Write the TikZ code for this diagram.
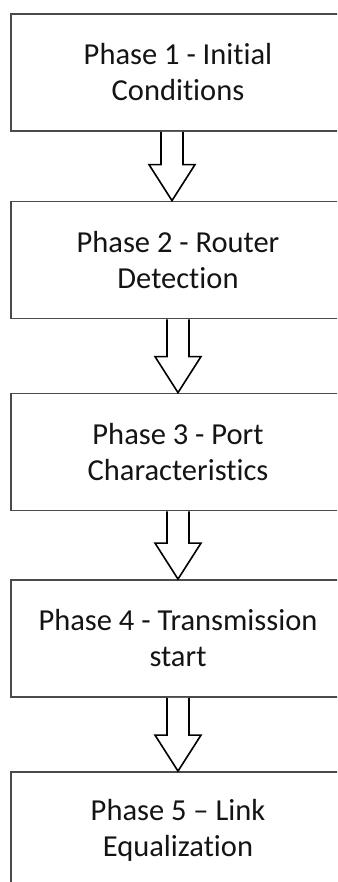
\documentclass[tikz,border=0pt]{standalone}
\usepackage{fontspec}
\setmainfont{Carlito}[Ligatures={NoCommon,NoContextual,NoRequired}]
\usetikzlibrary{calc}
\definecolor{frame}{HTML}{4A4A4A}
\definecolor{ink}{HTML}{141414}
\tikzset{
  phase/.style={draw=frame, line width=1.8pt, fill=white, minimum width=334pt,
    minimum height=117pt, inner sep=0pt, align=center, text=ink,
    font=\fontsize{30.5pt}{36pt}\selectfont},
  blockarr/.style={draw=black, line width=1.6pt, fill=white, line join=miter}
}
\begin{document}
\begin{tikzpicture}[x=1pt,y=1pt]
\useasboundingbox (0,0) rectangle (337,-882);
\clip (0,0) rectangle (337,-882);
\fill[white] (0,0) rectangle (337,-882);

\node[phase] (b1) at (178,-72.5) {Phase 1 - Initial\\Conditions};
\node[phase] (b2) at (178,-260) {Phase 2 - Router\\Detection};
\node[phase] (b3) at (178,-452) {Phase 3 - Port\\Characteristics};
\node[phase] (b4) at (178,-638.5) {Phase 4 - Transmission\\start};
\node[phase] (b5) at (178,-830.5) {Phase 5 -- Link\\Equalization};

% horizontal positions of the block arrows
\coordinate (a1) at (172,0);
\coordinate (a2) at (178,0);
\coordinate (a3) at (178,0);
\coordinate (a4) at (178,0);

\foreach \u/\v/\a in {b1/b2/a1, b2/b3/a2, b3/b4/a3, b4/b5/a4}{
  \draw[blockarr]
    ($(\u.south -| \a)+(-11,0)$) --
    ($(\v.north -| \a)+(-11,36)$) -- ++(-12,0) --
    (\v.north -| \a) -- ++(23,36) -- ++(-12,0) --
    ($(\u.south -| \a)+(11,0)$);
}
\end{tikzpicture}
\end{document}
